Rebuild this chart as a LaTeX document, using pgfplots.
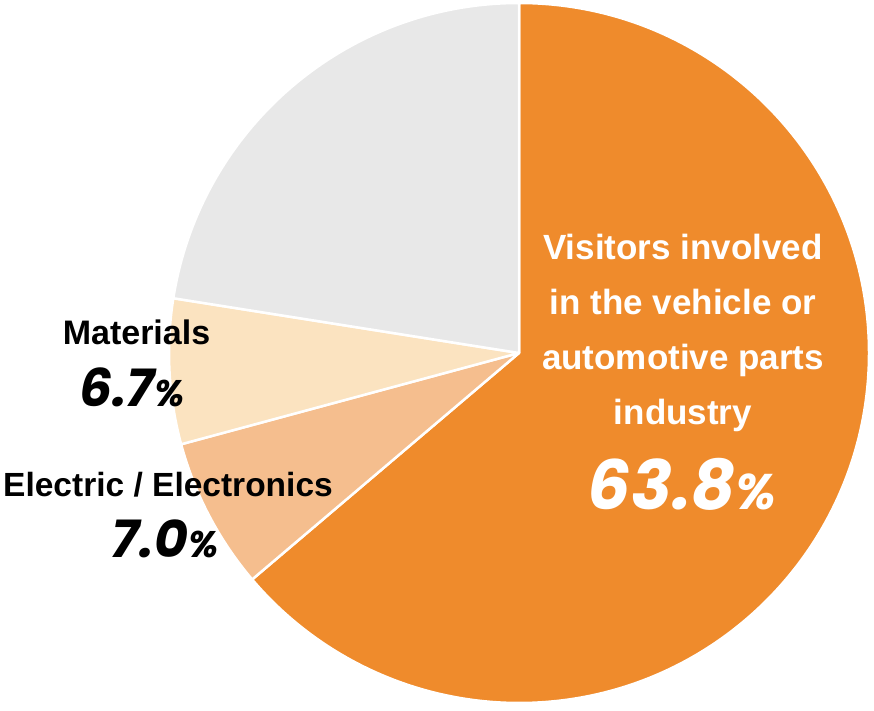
\documentclass[border=0pt]{standalone}
\usepackage{pgfplots}
\usepackage{pgfplotstable}
\pgfplotsset{compat=1.18}
\usepackage{fontspec}
\setmainfont{Liberation Sans}
\newfontfamily\numfont{Poppins}
\definecolor{cVeh}{HTML}{EF8B2C}
\definecolor{cEle}{HTML}{F5BE8E}
\definecolor{cMat}{HTML}{FBE3C0}
\definecolor{cOth}{HTML}{E8E8E8}
\pgfplotstableread{
label pct
Vehicle 63.8
Electric 7.0
Materials 6.7
Other 22.5
}\pietable
\begin{document}
\begin{tikzpicture}
\pgfplotstablegetelem{0}{pct}\of\pietable \let\pA\pgfplotsretval
\pgfplotstablegetelem{1}{pct}\of\pietable \let\pB\pgfplotsretval
\pgfplotstablegetelem{2}{pct}\of\pietable \let\pC\pgfplotsretval
\pgfplotstablegetelem{3}{pct}\of\pietable \let\pD\pgfplotsretval
\pgfmathsetmacro\aA{90}
\pgfmathsetmacro\aB{\aA-\pA*3.6}
\pgfmathsetmacro\aC{\aB-\pB*3.6}
\pgfmathsetmacro\aD{\aC-\pC*3.6}
\pgfmathsetmacro\aE{\aD-\pD*3.6}
\begin{axis}[
  scale only axis, width=874bp, height=711bp,
  xmin=0, xmax=874, ymin=0, ymax=711,
  hide axis, clip=false,
]
\path[use as bounding box] (axis cs:0,0) rectangle (axis cs:874,711);
\fill[cVeh, draw=white, line width=2.5bp, line join=round] (axis cs:519,358) -- ++(\aA:350bp) arc[start angle=\aA, end angle=\aB, radius=350bp] -- cycle;
\fill[cEle, draw=white, line width=2.5bp, line join=round] (axis cs:519,358) -- ++(\aB:350bp) arc[start angle=\aB, end angle=\aC, radius=350bp] -- cycle;
\fill[cMat, draw=white, line width=2.5bp, line join=round] (axis cs:519,358) -- ++(\aC:350bp) arc[start angle=\aC, end angle=\aD, radius=350bp] -- cycle;
\fill[cOth, draw=white, line width=2.5bp, line join=round] (axis cs:519,358) -- ++(\aD:350bp) arc[start angle=\aD, end angle=\aE, radius=350bp] -- cycle;
% labels
\node[white, font=\fontsize{35bp}{55bp}\selectfont\bfseries, align=center, anchor=north, inner sep=0pt] at (axis cs:683,477)
  {Visitors involved\\in the vehicle or\\automotive parts\\industry};
\node[white, inner sep=0pt, anchor=base] at (axis cs:682,201) {\numfont\bfseries\itshape\fontsize{68bp}{68bp}\selectfont 63.8\fontsize{50bp}{50bp}\selectfont\%};
\node[black, font=\fontsize{34bp}{40bp}\selectfont\bfseries, inner sep=0pt, anchor=base] at (axis cs:136.5,366) {Materials};
\node[black, inner sep=0pt, anchor=base] at (axis cs:132,304) {\numfont\bfseries\itshape\fontsize{52bp}{52bp}\selectfont 6.7\fontsize{37bp}{37bp}\selectfont\%};
\node[black, font=\fontsize{33.5bp}{40bp}\selectfont\bfseries, inner sep=0pt, anchor=base] at (axis cs:168,214) {Electric / Electronics};
\node[black, inner sep=0pt, anchor=base] at (axis cs:165,153) {\numfont\bfseries\itshape\fontsize{52bp}{52bp}\selectfont 7.0\fontsize{37bp}{37bp}\selectfont\%};
\end{axis}
\end{tikzpicture}
\end{document}
